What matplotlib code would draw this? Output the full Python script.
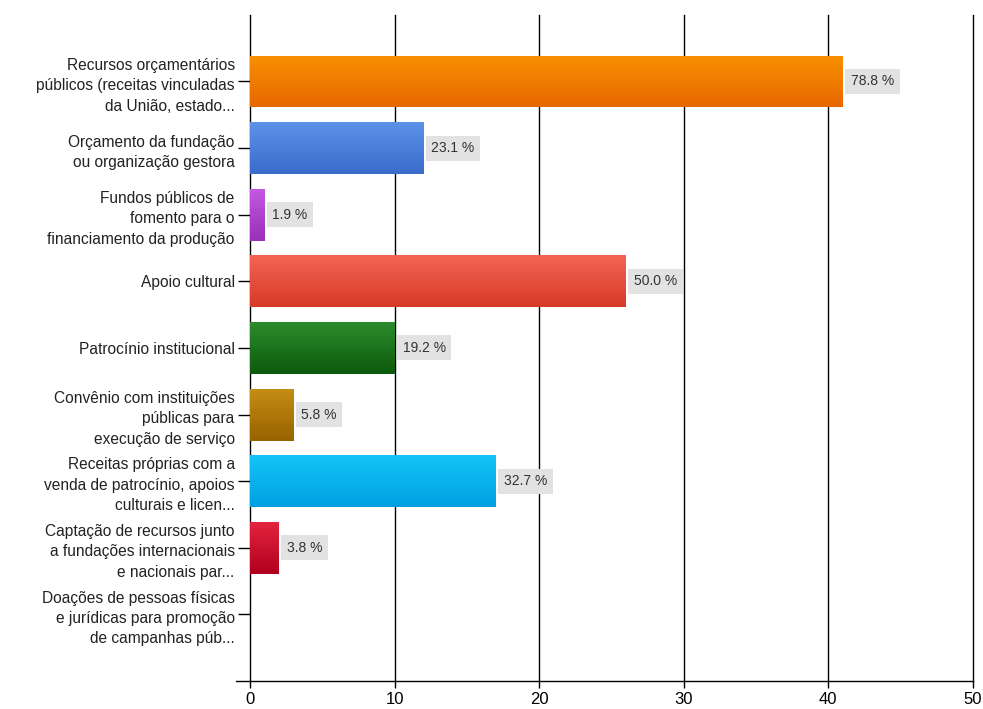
import numpy as np
import matplotlib.pyplot as plt
from matplotlib.colors import to_rgb

plt.rcParams['font.family'] = ['Liberation Sans', 'DejaVu Sans']

categories = [
    "Recursos orçamentários\npúblicos (receitas vinculadas\nda União, estado...",
    "Orçamento da fundação\nou organização gestora",
    "Fundos públicos de\nfomento para o\nfinanciamento da produção",
    "Apoio cultural",
    "Patrocínio institucional",
    "Convênio com instituições\npúblicas para\nexecução de serviço",
    "Receitas próprias com a\nvenda de patrocínio, apoios\nculturais e licen...",
    "Captação de recursos junto\na fundações internacionais\ne nacionais par...",
    "Doações de pessoas físicas\ne jurídicas para promoção\nde campanhas púb...",
]
counts = [41, 12, 1, 26, 10, 3, 17, 2, 0]
percents = [78.8, 23.1, 1.9, 50.0, 19.2, 5.8, 32.7, 3.8, 0.0]
xticks = [0, 10, 20, 30, 40, 50]

# (top, bottom) colour of the vertical gradient on each bar
bar_colors = [
    ("#F89000", "#E86800"),
    ("#5C92E8", "#3A6CCC"),
    ("#C458E4", "#9830B8"),
    ("#F46452", "#D83A28"),
    ("#2C8C2C", "#0C5A0C"),
    ("#C48E14", "#986200"),
    ("#14C4F8", "#00A0E0"),
    ("#E4243E", "#B0001E"),
    ("#999999", "#777777"),
]

fig = plt.figure(figsize=(9.83, 7.09), dpi=100)
ax = fig.add_axes([0.2543, 0.0395, 0.7355, 0.9395])

y = np.arange(len(categories))
height = 0.78

bars = ax.barh(y, counts, height=height, color="none", edgecolor="none", zorder=3)
for bar, (c_top, c_bot), n in zip(bars, bar_colors, counts):
    if n == 0:
        continue
    t = np.linspace(0, 1, 64)[:, None, None]
    grad = (1 - t) * np.array(to_rgb(c_top)) + t * np.array(to_rgb(c_bot))
    x0 = bar.get_x()
    y0 = bar.get_y()
    im = ax.imshow(grad, extent=(x0, x0 + bar.get_width(), y0 + bar.get_height(), y0),
                   origin="upper", aspect="auto", zorder=3, interpolation="bilinear")
    im.set_clip_path(bar)

for yi, n, p in zip(y, counts, percents):
    if n == 0:
        continue
    ax.text(n + 0.55, yi, f"{p:.1f} %", va="center", ha="left", fontsize=10,
            color="#333333", zorder=4,
            bbox=dict(boxstyle="square,pad=0.4", facecolor="#E2E2E2", edgecolor="none"))

# vertical grid lines, drawn unclipped so the one at 50 keeps full width
for xv in xticks[1:]:
    ax.axvline(xv, color="black", linewidth=1.0, zorder=1, clip_on=False)

ax.set_xlim(0, 50)
ax.set_ylim(len(categories), -1)
ax.set_xticks(xticks)
ax.set_yticks(y)
ax.set_yticklabels(categories, fontsize=11.2, color="#222222", linespacing=1.45)

for side in ("top", "right"):
    ax.spines[side].set_visible(False)
ax.spines["left"].set_linewidth(1.0)
ax.spines["bottom"].set_linewidth(1.0)
ax.spines["bottom"].set_bounds(-1.0, 50)
ax.tick_params(axis="y", length=9, width=1.0, pad=2)
ax.tick_params(axis="x", length=5, width=1.0, labelsize=12, pad=3)

fig.savefig("out.png", dpi=100)
